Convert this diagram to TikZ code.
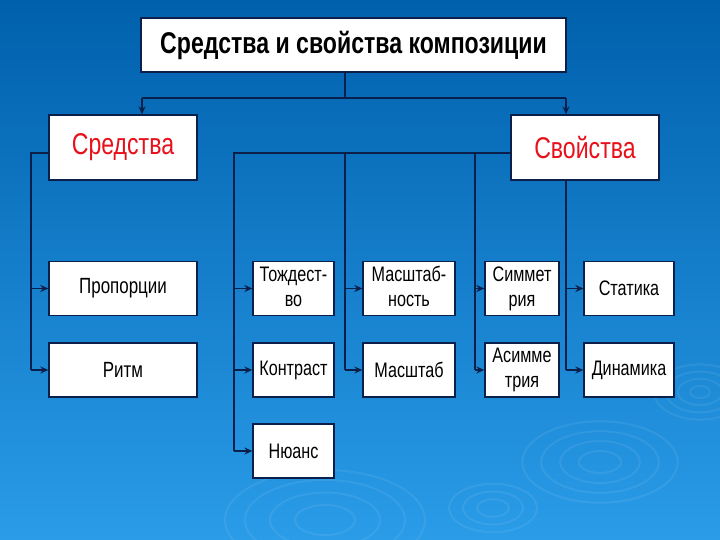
\documentclass[tikz,border=0pt]{standalone}
\usepackage{fontspec}
\setmainfont{Liberation Sans}
\usepackage{graphicx}
\usetikzlibrary{arrows.meta}
\definecolor{bgtop}{HTML}{0060AC}
\definecolor{bgmid}{HTML}{056AB8}
\definecolor{bgbot}{HTML}{2A9CE8}
\definecolor{navy}{HTML}{0A1F4A}
\definecolor{redtxt}{HTML}{E8101A}
\newcommand\nx[1]{\scalebox{0.77}[1]{#1}}
\newcommand\twol[2]{\nx{\begin{tabular}{@{}c@{}}#1\\[-1pt]#2\end{tabular}}}
\begin{document}
\begin{tikzpicture}[x=1pt,y=-1pt,
  box/.style={draw=navy,line width=1.3pt,fill=white,inner sep=0pt,align=center},
  titlebox/.style={box,minimum width=425pt,minimum height=54pt,font=\fontsize{30}{36}\selectfont\bfseries},
  bigbox/.style={box,minimum width=148pt,minimum height=65pt,font=\fontsize{30}{36}\selectfont,text=redtxt},
  midbox/.style={box,minimum width=148pt,minimum height=54pt,font=\fontsize{22}{27}\selectfont},
  smallbox/.style={box,minimum height=54pt,font=\fontsize{21}{26}\selectfont},
  conn/.style={draw=navy,line width=1.5pt},
  arr/.style={conn,-{Stealth[length=8pt,width=7pt]}},
  ripple/.style={draw=white,opacity=0.07,line width=2pt}]
\useasboundingbox (0,0) rectangle (720,540);
\shade[top color=bgtop,middle color=bgmid,bottom color=bgbot] (0,0) rectangle (720,540);
% ripples
\begin{scope}
\clip (0,0) rectangle (720,540);
\foreach \r in {20,38,56,74}{\draw[ripple] (600,462) ellipse ({\r*1.05} and {\r*0.55});}
\foreach \r in {16,30,44}{\draw[ripple] (493,508) ellipse ({\r} and {\r*0.55});}
\foreach \r in {30,55,80,100}{\draw[ripple] (325,520) ellipse ({\r} and {\r*0.5});}
\foreach \r in {10,22,34,46}{\draw[ripple] (700,392) ellipse ({\r} and {\r*0.6});}
\end{scope}
% nodes
\node[titlebox] (title) at (353.5,45) {\nx{Средства и свойства композиции}};
\node[bigbox] (sred) at (123,147.5) {\nx{Средства}};
\node[bigbox] (svoi) at (585,147.5) {\nx{Свойства}};
\node[midbox] (prop) at (123,288.5) {\nx{Пропорции}};
\node[midbox] (ritm) at (123,370) {\nx{Ритм}};
\node[smallbox,minimum width=81pt] (tozh) at (293.5,288.5) {\twol{Тождест-}{во}};
\node[smallbox,minimum width=81pt] (kontr) at (293.5,370) {\nx{Контраст}};
\node[smallbox,minimum width=81pt] (nuans) at (293.5,451) {\nx{Нюанс}};
\node[smallbox,minimum width=92pt] (mashn) at (409,288.5) {\twol{Масштаб-}{ность}};
\node[smallbox,minimum width=92pt] (mash) at (409,370) {\nx{Масштаб}};
\node[smallbox,minimum width=74pt] (simm) at (522,288.5) {\twol{Симмет}{рия}};
\node[smallbox,minimum width=74pt] (asimm) at (522,370) {\twol{Асимме}{трия}};
\node[smallbox,minimum width=90pt] (stat) at (629,288.5) {\nx{Статика}};
\node[smallbox,minimum width=90pt] (dyn) at (629,370) {\nx{Динамика}};
% coordinates
\coordinate (j) at (345,98);
\coordinate (xa) at (142,0);
\coordinate (xb) at (566,0);
\coordinate (yl) at (0,153);
\coordinate (xl) at (31,0);
\coordinate (x1) at (234,0);
\coordinate (x2) at (345,0);
\coordinate (x3) at (475,0);
% top connectors
\draw[conn] (title.south -| j) -- (j);
\draw[conn] (j -| xa) -- (j -| xb);
\draw[arr] (j -| xa) -- (sred.north -| xa);
\draw[arr] (j -| xb) -- (svoi.north -| xb);
% Sredstva
\draw[conn] (sred.west |- yl) -- (xl |- yl) -- (xl |- ritm.west);
\draw[arr] (xl |- prop.west) -- (prop.west);
\draw[arr] (xl |- ritm.west) -- (ritm.west);
% Svoistva
\draw[conn] (svoi.west |- yl) -- (x1 |- yl) -- (x1 |- nuans.west);
\draw[conn] (x2 |- yl) -- (x2 |- mash.west);
\draw[conn] (x3 |- yl) -- (x3 |- asimm.west);
\draw[conn] (svoi.south -| xb) -- (xb |- dyn.west);
\draw[arr] (x1 |- tozh.west) -- (tozh.west);
\draw[arr] (x1 |- kontr.west) -- (kontr.west);
\draw[arr] (x1 |- nuans.west) -- (nuans.west);
\draw[arr] (x2 |- mashn.west) -- (mashn.west);
\draw[arr] (x2 |- mash.west) -- (mash.west);
\draw[arr] (x3 |- simm.west) -- (simm.west);
\draw[arr] (x3 |- asimm.west) -- (asimm.west);
\draw[arr] (xb |- stat.west) -- (stat.west);
\draw[arr] (xb |- dyn.west) -- (dyn.west);
\end{tikzpicture}
\end{document}
